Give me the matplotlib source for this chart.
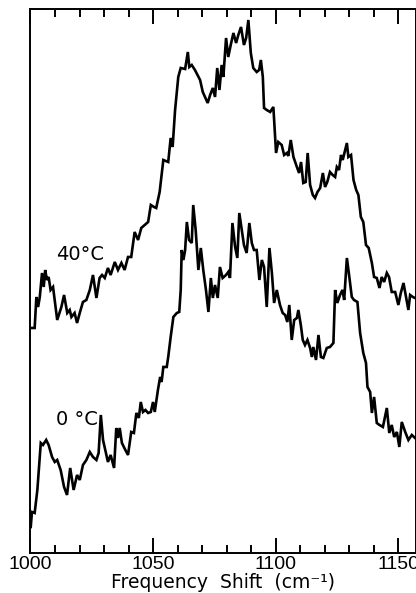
import matplotlib
matplotlib.use("Agg")
import matplotlib.pyplot as plt
from matplotlib.ticker import MultipleLocator

# Raman spectra, C-O stretching region, at two temperatures
shift_40 = [1000.1, 1001.7, 1002.4, 1003.1, 1003.8, 1004.7, 1005.4, 1006.0, 1006.7, 1007.4,
            1008.2, 1009.2, 1010.9, 1012.6, 1013.7, 1015.0, 1016.0, 1016.7, 1018.0, 1019.0,
            1020.1, 1021.4, 1022.8, 1024.2, 1025.5, 1026.9, 1028.2, 1029.2, 1030.3, 1031.6,
            1032.7, 1034.4, 1035.7, 1037.1, 1038.4, 1039.8, 1041.1, 1042.5, 1043.9, 1045.2,
            1046.6, 1048.0, 1049.1, 1050.4, 1051.3, 1052.7, 1054.2, 1056.2, 1057.2, 1058.0,
            1059.0, 1060.3, 1061.3, 1063.1, 1064.2, 1064.8, 1065.8, 1067.1, 1069.2, 1070.3,
            1071.2, 1072.3, 1073.3, 1074.4, 1075.3, 1076.2, 1077.1, 1078.0, 1078.7, 1079.8,
            1080.7, 1081.7, 1082.8, 1083.9, 1084.8, 1085.9, 1087.1, 1088.0, 1088.9, 1089.9,
            1090.9, 1092.3, 1093.3, 1094.0, 1094.8, 1095.3, 1096.4, 1097.8, 1099.1, 1100.2,
            1101.1, 1102.5, 1103.5, 1104.6, 1105.2, 1106.2, 1107.3, 1108.7, 1109.6, 1110.4,
            1111.3, 1112.3, 1113.1, 1114.1, 1115.2, 1116.1, 1117.1, 1118.2, 1119.3, 1120.2,
            1121.1, 1122.2, 1123.3, 1124.3, 1125.0, 1125.9, 1126.7, 1127.4, 1128.1, 1129.1,
            1129.7, 1130.8, 1131.8, 1132.9, 1133.8, 1134.8, 1135.8, 1136.9, 1138.0, 1139.3,
            1140.2, 1141.3, 1142.4, 1143.3, 1144.3, 1145.4, 1146.3, 1147.4, 1148.8, 1150.1,
            1151.1, 1152.2, 1153.3, 1154.2, 1154.9, 1156.0, 1156.9]
intensity_40 = [225, 225, 256, 246, 256, 280, 266, 283, 273, 276,
                263, 266, 233, 246, 258, 240, 243, 236, 240, 230,
                240, 251, 253, 263, 278, 255, 275, 278, 275, 285,
                278, 291, 283, 290, 283, 296, 296, 321, 313, 325,
                328, 331, 348, 346, 345, 361, 393, 391, 415, 406,
                443, 476, 485, 484, 501, 486, 488, 483, 473, 461,
                456, 450, 458, 465, 456, 485, 463, 488, 476, 515,
                496, 508, 520, 510, 518, 526, 508, 515, 533, 500,
                485, 481, 483, 493, 476, 445, 443, 441, 446, 400,
                411, 408, 398, 400, 397, 413, 396, 386, 380, 391,
                370, 371, 400, 368, 358, 355, 361, 365, 380, 366,
                371, 381, 378, 376, 386, 383, 398, 393, 400, 410,
                396, 398, 373, 363, 358, 336, 331, 308, 305, 290,
                276, 275, 265, 276, 271, 280, 276, 261, 261, 248,
                260, 270, 255, 243, 258, 256, 255]

shift_0 = [1000.1, 1000.6, 1001.7, 1002.8, 1004.2, 1005.1, 1006.4, 1007.4, 1008.8, 1009.9,
           1010.9, 1012.3, 1013.7, 1014.9, 1016.2, 1017.6, 1019.0, 1020.1, 1021.4, 1022.8,
           1024.2, 1025.5, 1026.9, 1027.8, 1028.7, 1029.6, 1030.5, 1031.6, 1032.7, 1034.1,
           1035.0, 1035.7, 1036.4, 1037.3, 1038.7, 1039.8, 1041.1, 1042.2, 1043.2, 1044.2,
           1045.0, 1045.9, 1046.9, 1048.0, 1049.1, 1050.0, 1050.7, 1052.0, 1052.9, 1053.5,
           1054.2, 1055.6, 1056.2, 1057.2, 1058.3, 1059.7, 1060.7, 1061.3, 1061.7, 1062.4,
           1063.1, 1063.8, 1064.7, 1065.8, 1066.4, 1067.4, 1068.5, 1069.5, 1070.5, 1071.6,
           1072.6, 1073.6, 1074.4, 1075.3, 1076.4, 1077.3, 1078.4, 1079.8, 1080.7, 1081.4,
           1082.4, 1083.5, 1084.4, 1085.2, 1086.2, 1087.1, 1088.2, 1089.3, 1090.3, 1091.2,
           1092.3, 1093.4, 1094.4, 1095.3, 1096.4, 1097.5, 1098.5, 1099.4, 1100.5, 1101.8,
           1102.9, 1103.9, 1104.8, 1105.6, 1106.6, 1107.6, 1108.7, 1109.3, 1110.3, 1111.1,
           1112.0, 1113.0, 1114.1, 1114.8, 1115.4, 1116.5, 1117.5, 1118.5, 1119.5, 1120.9,
           1122.2, 1123.6, 1124.3, 1125.2, 1126.3, 1127.3, 1128.0, 1129.1, 1130.1, 1131.1,
           1132.0, 1133.4, 1134.5, 1135.8, 1136.9, 1137.5, 1138.6, 1139.3, 1140.2, 1141.3,
           1142.4, 1143.8, 1145.4, 1146.4, 1147.4, 1148.4, 1149.5, 1150.5, 1151.5, 1152.9,
           1154.2, 1155.6, 1156.9]
intensity_0 = [26, 41, 40, 63, 110, 108, 113, 108, 96, 91,
               93, 83, 66, 58, 85, 63, 78, 73, 88, 93,
               101, 96, 93, 100, 138, 113, 103, 91, 98, 85,
               125, 115, 125, 110, 103, 98, 121, 120, 140, 135,
               151, 141, 143, 140, 141, 151, 141, 163, 176, 171,
               186, 186, 196, 216, 236, 240, 241, 263, 303, 293,
               303, 331, 313, 310, 348, 323, 283, 305, 283, 263,
               241, 275, 255, 268, 255, 286, 275, 278, 281, 275,
               330, 306, 295, 340, 323, 308, 300, 330, 310, 303,
               303, 273, 293, 286, 246, 305, 280, 250, 263, 248,
               240, 238, 231, 248, 213, 233, 235, 243, 228, 213,
               208, 213, 205, 196, 206, 193, 218, 196, 195, 205,
               206, 210, 263, 250, 258, 263, 253, 295, 276, 256,
               253, 251, 220, 200, 190, 166, 161, 140, 156, 130,
               128, 126, 145, 120, 128, 116, 121, 106, 131, 121,
               113, 118, 115]

labels = ["40°C", "0 °C"]
label_pos = [(1010.3, 298), (1010.5, 133)]

plt.rcParams["font.family"] = ["DejaVu Sans"]

fig = plt.figure(figsize=(4.16, 5.93), dpi=100)
ax = fig.add_axes([0.0733, 0.0675, 0.9255, 0.9165])

ax.plot(shift_40, intensity_40, color="black", lw=1.9, solid_joinstyle="miter")
ax.plot(shift_0, intensity_0, color="black", lw=1.9, solid_joinstyle="miter")

for text, (x, y) in zip(labels, label_pos):
    ax.text(x, y, text, fontsize=14, ha="left", va="center", color="black")

ax.set_xlim(1000, 1157.1)
ax.set_ylim(0, 543.5)

ax.xaxis.set_major_locator(MultipleLocator(50))
ax.xaxis.set_minor_locator(MultipleLocator(10))
ax.tick_params(axis="x", which="both", direction="in", top=True, bottom=True,
               width=1.4, pad=2)
ax.tick_params(axis="x", which="major", length=10.5)
ax.tick_params(axis="x", which="minor", length=5.5)
for lbl in ax.get_xticklabels():
    lbl.set_fontfamily("Liberation Sans")
    lbl.set_fontsize(14)
ax.set_yticks([])

for spine in ax.spines.values():
    spine.set_linewidth(1.4)

ax.set_xlabel("Frequency  Shift  (cm⁻¹)", fontsize=13.5, labelpad=0)

fig.savefig("out.png", dpi=100)
